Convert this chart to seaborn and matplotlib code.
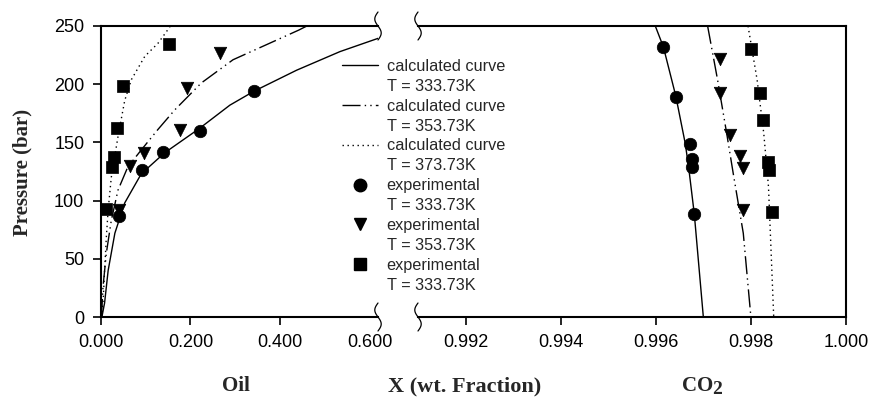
import numpy as np
import pandas as pd
import matplotlib
matplotlib.use("Agg")
import matplotlib.pyplot as plt
from matplotlib.lines import Line2D
import seaborn as sns

# ---------------- data ----------------
oil_ticks = [0.0, 0.2, 0.4, 0.6]
oil_tick_labels = ["0.000", "0.200", "0.400", "0.600"]
co2_ticks = [0.992, 0.994, 0.996, 0.998, 1.000]
co2_tick_labels = ["0.992", "0.994", "0.996", "0.998", "1.000"]
p_ticks = [0, 50, 100, 150, 200, 250]

# calculated curves, oil-rich phase
calc333_oil_x = [0.002, 0.008, 0.016, 0.031, 0.053, 0.090, 0.142, 0.220, 0.288, 0.342, 0.437, 0.534, 0.620]
calc333_oil_p = [0, 12, 40, 72, 98, 123, 141, 162, 182, 194, 212, 228, 239.5]
calc353_oil_x = [0.001, 0.0045, 0.012, 0.023, 0.038, 0.060, 0.090, 0.127, 0.165, 0.224, 0.295, 0.370, 0.442, 0.460]
calc353_oil_p = [0, 26, 55, 83, 109, 129, 143.5, 161, 178, 201, 221, 234, 246.5, 250]
calc373_oil_x = [0.002, 0.005, 0.008, 0.012, 0.016, 0.023, 0.038, 0.053, 0.068, 0.098, 0.127, 0.146, 0.155]
calc373_oil_p = [0, 15, 40, 69, 92, 120, 155, 186, 204, 224, 235, 245, 250]

# calculated curves, CO2-rich phase
calc333_co2_x = [0.99599, 0.99616, 0.99642, 0.99662, 0.99669, 0.99681, 0.99700]
calc333_co2_p = [250, 232, 190, 149, 129, 88.5, 0]
calc353_co2_x = [0.99709, 0.99730, 0.99749, 0.99763, 0.99784, 0.99800]
calc353_co2_p = [250, 203.6, 158, 123, 72, 0]
calc373_co2_x = [0.99794, 0.99813, 0.99827, 0.99837, 0.99848]
calc373_co2_p = [250, 204, 158, 112, 0]

# experimental points, oil-rich phase
exp333_oil_x = [0.040, 0.091, 0.139, 0.221, 0.342]
exp333_oil_p = [87, 126, 142, 160, 194]
exp353_oil_x = [0.040, 0.065, 0.095, 0.177, 0.193, 0.267]
exp353_oil_p = [92, 130, 141, 161, 197, 227]
exp373_oil_x = [0.012, 0.025, 0.029, 0.0365, 0.050, 0.152]
exp373_oil_p = [92.5, 129, 137.5, 162.6, 198.5, 234.5]

# experimental points, CO2-rich phase
exp333_co2_x = [0.99616, 0.99642, 0.99672, 0.99676, 0.99677, 0.99681]
exp333_co2_p = [231.6, 189.4, 148.6, 136, 129, 88.5]
exp353_co2_x = [0.99735, 0.99735, 0.99756, 0.99777, 0.99783, 0.99783]
exp353_co2_p = [222, 192.7, 156.5, 138.5, 127.6, 91.9]
exp373_co2_x = [0.99801, 0.99820, 0.99825, 0.99837, 0.99839, 0.99844]
exp373_co2_p = [230.6, 192.2, 169.6, 133.4, 126.2, 90.2]

legend_labels = ["calculated curve", "T = 333.73K",
                 "calculated curve", "T = 353.73K",
                 "calculated curve", "T = 373.73K",
                 "experimental", "T = 333.73K",
                 "experimental", "T = 353.73K",
                 "experimental", "T = 333.73K"]

# ---------------- style ----------------
sns.set_theme(style="ticks")
plt.rcParams["font.family"] = ["Liberation Sans", "DejaVu Sans"]

W, H = 873, 400
fig = plt.figure(figsize=(W / 100, H / 100), dpi=100)
fig.patch.set_facecolor("white")

def fx(px):
    return px / W

def fy(py):
    return 1 - py / H

axL = fig.add_axes([fx(101), fy(317), (378 - 101) / W, 291 / H])
axR = fig.add_axes([fx(418), fy(317), (846 - 418) / W, 291 / H])

DASHDOT = (13, 3, 1, 3, 1, 3)
DOTTED = (1, 2.6)
LW = 1.0
MS = 9

def curve(ax, xs, ps, dashes=None):
    df = pd.DataFrame({"x": xs, "p": ps})
    n0 = len(ax.lines)
    sns.lineplot(data=df, x="x", y="p", sort=False, estimator=None,
                 color="black", linewidth=LW, ax=ax)
    ln = ax.lines[n0]
    if dashes is not None:
        ln.set_dashes(dashes)
    return ln

def points(ax, xs, ps, marker):
    df = pd.DataFrame({"x": xs, "p": ps})
    sns.scatterplot(data=df, x="x", y="p", marker=marker, s=MS ** 2,
                    color="black", edgecolor="black", linewidth=0.5,
                    clip_on=False, zorder=5, ax=ax)

# oil side
curve(axL, calc333_oil_x, calc333_oil_p)
curve(axL, calc353_oil_x, calc353_oil_p, DASHDOT)
curve(axL, calc373_oil_x, calc373_oil_p, DOTTED)
points(axL, exp333_oil_x, exp333_oil_p, "o")
points(axL, exp353_oil_x, exp353_oil_p, "v")
points(axL, exp373_oil_x, exp373_oil_p, "s")

# CO2 side
curve(axR, calc333_co2_x, calc333_co2_p)
curve(axR, calc353_co2_x, calc353_co2_p, DASHDOT)
curve(axR, calc373_co2_x, calc373_co2_p, DOTTED)
points(axR, exp333_co2_x, exp333_co2_p, "o")
points(axR, exp353_co2_x, exp353_co2_p, "v")
points(axR, exp373_co2_x, exp373_co2_p, "s")

# axes limits & ticks
axL.set_xlim(0, 0.619)
axR.set_xlim(0.991, 1.000)
for ax in (axL, axR):
    ax.set_ylim(0, 250)
    ax.set_xlabel("")
    ax.set_ylabel("")
    ax.set_facecolor("white")
    for s in ax.spines.values():
        s.set_linewidth(1.5)
        s.set_color("black")
    ax.tick_params(axis="both", direction="out", length=6, width=1.2,
                   colors="black", labelsize=13, pad=6)

axL.set_xticks(oil_ticks)
axL.set_xticklabels(oil_tick_labels)
axL.set_yticks(p_ticks)
axL.set_yticklabels([str(v) for v in p_ticks])
axL.spines["right"].set_visible(False)
axL.xaxis.get_major_ticks()[3].tick1line.set_visible(False)

axR.set_xticks(co2_ticks)
axR.set_xticklabels(co2_tick_labels)
axR.set_yticks([])
axR.spines["left"].set_visible(False)

# axis break marks
def squiggle(x0, yc):
    t = np.linspace(0, 1, 60)
    h = 28
    xs = x0 - 3.2 * np.sin(2 * np.pi * t)
    ys = yc - h / 2 + h * t
    fig.add_artist(Line2D(fx(xs), fy(ys), color="black", lw=0.9,
                          transform=fig.transFigure))

for yc in (26, 317):
    squiggle(378, yc)
    squiggle(418, yc)

# legend
h_solid = Line2D([], [], color="black", lw=LW)
h_dd = Line2D([], [], color="black", lw=LW, dashes=DASHDOT)
h_dot = Line2D([], [], color="black", lw=LW, dashes=DOTTED)
h_o = Line2D([], [], color="black", marker="o", ms=MS, ls="none")
h_v = Line2D([], [], color="black", marker="v", ms=MS, ls="none")
h_s = Line2D([], [], color="black", marker="s", ms=MS, ls="none")
h_blank = Line2D([], [], color="none", ls="none")
handles = [h_solid, h_blank, h_dd, h_blank, h_dot, h_blank,
           h_o, h_blank, h_v, h_blank, h_s, h_blank]
fig.legend(handles, legend_labels, loc="upper left",
           bbox_to_anchor=(fx(342), fy(59)), bbox_transform=fig.transFigure,
           frameon=False, borderpad=0, borderaxespad=0,
           handlelength=2.2, handletextpad=0.55, labelspacing=0.3,
           fontsize=11.7, numpoints=1)

# labels
serif_bold = dict(family=["Liberation Serif", "DejaVu Serif"], weight="bold")
fig.text(fx(22), fy(172), "Pressure (bar)", rotation=90, ha="center",
         va="center", fontsize=15, **serif_bold)
fig.text(fx(236), fy(386), "Oil", ha="center", va="center", fontsize=15, **serif_bold)
fig.text(fx(465), fy(386), "X (wt. Fraction)", ha="center", va="center",
         fontsize=16, **serif_bold)
fig.text(fx(682), fy(386), "CO", ha="left", va="center", fontsize=15, **serif_bold)
fig.text(fx(712), fy(390), "2", ha="left", va="center", fontsize=14, **serif_bold)

fig.savefig("out.png", dpi=100, facecolor="white")
